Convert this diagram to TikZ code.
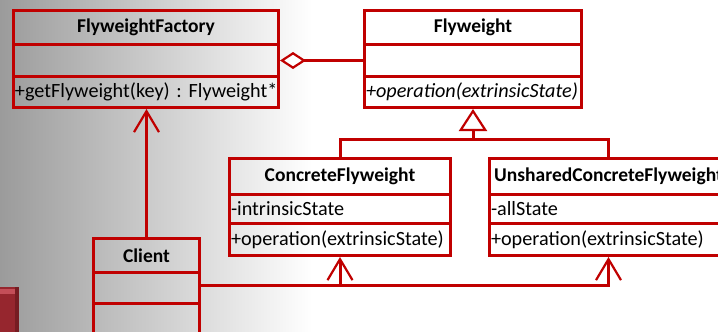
\documentclass[tikz,border=0pt]{standalone}
\usepackage{fontspec}
\setmainfont{Carlito}
\usetikzlibrary{arrows.meta}
\definecolor{umlred}{RGB}{192,0,0}
\definecolor{blockred}{RGB}{150,38,46}
\definecolor{blocklight}{RGB}{196,78,88}
\definecolor{blockdark}{RGB}{118,28,34}
\tikzset{
  compart/.style={draw=umlred, line width=3pt, inner xsep=1.5pt, inner ysep=0pt,
    anchor=north west, text=black},
  titlecomp/.style={compart, align=center, font=\fontsize{19.5}{22}\selectfont\bfseries},
  membercomp/.style={compart, align=left, font=\fontsize{20.2}{22}\selectfont\frenchspacing},
  conn/.style={draw=umlred, line width=3pt},
  depend/.style={conn, -{Straight Barb[length=21pt, width=25pt, line width=2.2pt]}},
  inherit/.style={conn, -{Triangle[length=22pt, width=28pt, fill=white, line width=2.2pt]}},
  aggreg/.style={conn, -{Diamond[length=26pt, width=17pt, fill=white, line width=2.2pt]}},
}
% one compartment of a class box: name, x, y, width, height, style, text
\newcommand\compartment[7]{%
  \node[#6, text width=#4pt-3pt, minimum height=#5pt] (#1) at (#2,#3) {\mbox{#7}};}
\begin{document}
\begin{tikzpicture}[x=1pt, y=-1pt]
  \useasboundingbox (0,0) rectangle (718,332);
  \clip (0,0) rectangle (718,332);
  % backdrop
  \fill[white] (0,0) rectangle (718,332);
  \shade[left color={rgb,255:red,155;green,155;blue,155}, right color=white]
    (0,0) rectangle (312,332);
  % red block in the lower left corner
  \fill[blockred] (0,287) rectangle (19,332);
  \fill[blocklight] (0,289) rectangle (15,294);
  \fill[blockdark] (15,287) rectangle (19,332);

  % FlyweightFactory
  \compartment{ffT}{12}{9}{265}{34}{titlecomp}{FlyweightFactory}
  \compartment{ffA}{12}{43}{265}{32}{membercomp}{}
  \compartment{ffM}{12}{75}{265}{31}{membercomp}{+getFlyweight(key) : Flyweight*}

  % Flyweight
  \compartment{fwT}{363}{9}{217}{34}{titlecomp}{Flyweight}
  \compartment{fwA}{363}{43}{217}{32}{membercomp}{}
  \compartment{fwM}{363}{75}{217}{31}{membercomp}{\itshape +operation(extrinsicState)}

  % ConcreteFlyweight
  \compartment{cfT}{228}{157}{221}{36}{titlecomp}{ConcreteFlyweight}
  \compartment{cfA}{228}{193}{221}{29}{membercomp}{-intrinsicState}
  \compartment{cfM}{228}{222}{221}{32}{membercomp}{+operation(extrinsicState)}

  % UnsharedConcreteFlyweight
  \compartment{ucT}{488}{157}{238}{36}{titlecomp}{UnsharedConcreteFlyweight}
  \compartment{ucA}{488}{193}{238}{29}{membercomp}{-allState}
  \compartment{ucM}{488}{222}{238}{32}{membercomp}{+operation(extrinsicState)}

  % Client
  \compartment{clT}{92}{237}{106}{34}{titlecomp}{Client}
  \compartment{clA}{92}{271}{106}{31}{membercomp}{}
  \compartment{clM}{92}{302}{106}{31}{membercomp}{}

  % aggregation: the factory holds flyweights
  \draw[aggreg] (fwA.west) -- (ffA.east);

  % generalization
  \coordinate (join) at (fwM.south |- 0,139);
  \draw[conn] (cfT.north) |- (join);
  \draw[conn] (ucT.north) |- (join);
  \draw[inherit] (join) -- (fwM.south);

  % client dependencies
  \draw[depend] (clT.north) -- (clT.north |- ffM.south);
  \coordinate (clOut) at (clA.east |- 0,285);
  \draw[depend] (clOut) -| (cfM.south);
  \draw[depend] (clOut) -| (ucM.south);
\end{tikzpicture}
\end{document}
